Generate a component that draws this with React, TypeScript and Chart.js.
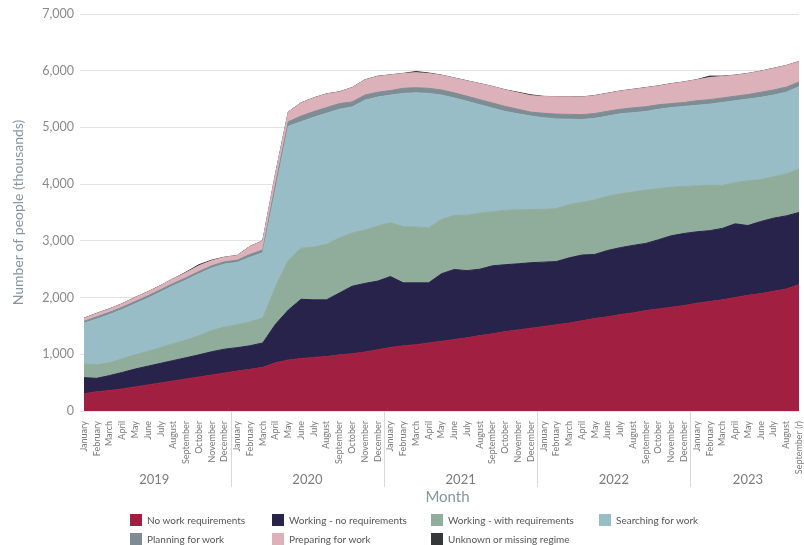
import React, { useEffect, useRef } from "react";
import { Chart, registerables } from "chart.js";

Chart.register(...registerables);

// ---------- DATA ----------
const monthNames = [
  "January", "February", "March", "April", "May", "June",
  "July", "August", "September", "October", "November", "December",
];
const years = ["2019", "2020", "2021", "2022", "2023"];
const monthsPerYear = [12, 12, 12, 12, 9];
const lastMonthLabel = "September (r)";

// thousands of people
const noWorkRequirements = [
  305, 340, 360, 390, 425, 460, 495, 530, 565, 600, 635, 670,
  705, 735, 770, 850, 900, 925, 945, 960, 990, 1010, 1040, 1080,
  1120, 1150, 1170, 1200, 1230, 1260, 1290, 1330, 1360, 1400, 1430, 1460,
  1490, 1520, 1550, 1590, 1630, 1660, 1700, 1730, 1770, 1800, 1830, 1860,
  1900, 1930, 1960, 2000, 2040, 2070, 2110, 2150, 2230,
];
const workingNoRequirements = [
  283, 236, 265, 290, 315, 330, 345, 360, 375, 390, 410, 420,
  412, 415, 430, 680, 880, 1045, 1015, 1000, 1090, 1190, 1210, 1210,
  1250, 1110, 1090, 1060, 1190, 1235, 1185, 1170, 1200, 1180, 1165, 1155,
  1135, 1115, 1150, 1160, 1130, 1170, 1180, 1190, 1185, 1220, 1260, 1270,
  1260, 1250, 1260, 1300, 1230, 1270, 1290, 1290, 1270,
];
const workingWithRequirements = [
  242, 239, 225, 240, 250, 260, 280, 300, 310, 340, 375, 390,
  403, 420, 440, 660, 880, 900, 930, 980, 970, 940, 940, 970,
  950, 990, 985, 970, 960, 955, 975, 990, 955, 960, 953, 937,
  931, 935, 940, 930, 960, 960, 950, 940, 940, 900, 855, 830,
  810, 798, 758, 730, 790, 740, 730, 740, 765,
];
const searchingForWork = [
  720, 805, 850, 870, 900, 940, 980, 1020, 1060, 1090, 1100, 1110,
  1100, 1140, 1150, 1710, 2360, 2230, 2290, 2310, 2270, 2220, 2290, 2275,
  2250, 2350, 2365, 2370, 2190, 2070, 2010, 1910, 1825, 1740, 1692, 1648,
  1614, 1580, 1505, 1460, 1440, 1410, 1410, 1400, 1385, 1400, 1405, 1410,
  1420, 1432, 1462, 1440, 1440, 1450, 1440, 1440, 1455,
];
const planningForWork = [
  30, 40, 40, 40, 40, 40, 40, 40, 40, 40, 40, 40,
  40, 50, 50, 100, 80, 100, 100, 100, 100, 90, 90, 85,
  80, 90, 90, 90, 90, 90, 90, 90, 90, 90, 80, 70,
  80, 85, 85, 85, 85, 85, 80, 85, 85, 80, 70, 70,
  80, 80, 80, 80, 80, 90, 90, 90, 80,
];
const preparingForWork = [
  55, 60, 60, 60, 70, 70, 70, 80, 90, 100, 90, 80,
  80, 140, 160, 180, 170, 230, 240, 240, 205, 250, 267, 280,
  275, 260, 266, 260, 260, 260, 270, 280, 290, 290, 290, 290,
  295, 305, 310, 310, 315, 315, 320, 325, 335, 330, 350, 360,
  370, 390, 380, 370, 370, 370, 380, 380, 360,
];
const unknownRegime = [
  3, 3, 3, 3, 3, 3, 3, 3, 10, 20, 10, 3,
  3, 3, 3, 3, 3, 3, 3, 3, 3, 3, 3, 3,
  3, 3, 20, 10, 3, 3, 3, 3, 3, 3, 10, 15,
  3, 3, 3, 3, 3, 3, 3, 3, 3, 3, 3, 3,
  3, 25, 5, 3, 3, 3, 3, 3, 3,
];

const seriesNames = [
  "No work requirements",
  "Working - no requirements",
  "Working - with requirements",
  "Searching for work",
  "Planning for work",
  "Preparing for work",
  "Unknown or missing regime",
];
const seriesValues = [
  noWorkRequirements,
  workingNoRequirements,
  workingWithRequirements,
  searchingForWork,
  planningForWork,
  preparingForWork,
  unknownRegime,
];
const seriesColors = [
  "#A11F40",
  "#28234A",
  "#90AD9B",
  "#98BDC7",
  "#7E8D94",
  "#DDB1B9",
  "#353739",
];

const yMin = 0;
const yMax = 7000;
const yStep = 1000;

const categories: string[] = [];
years.forEach((yr, yi) => {
  for (let m = 0; m < monthsPerYear[yi]; m++) categories.push(monthNames[m]);
});
categories[categories.length - 1] = lastMonthLabel;

const FONT = "Lato, 'Open Sans', sans-serif";

const yearPlugin = {
  id: "yearPlugin",
  afterDraw(chart: any) {
    const ctx = chart.ctx;
    const xs = chart.scales.x;
    const area = chart.chartArea;
    ctx.save();
    let start = 0;
    years.forEach((yr, yi) => {
      const end = start + monthsPerYear[yi] - 1;
      const x0 = xs.getPixelForValue(start);
      const x1 = xs.getPixelForValue(end);
      ctx.fillStyle = "#7b7b7b";
      ctx.font = `13px ${FONT}`;
      ctx.textAlign = "center";
      ctx.textBaseline = "middle";
      ctx.fillText(yr, (x0 + x1) / 2, 480);
      if (yi < years.length - 1) {
        const sx = Math.round((x1 + xs.getPixelForValue(end + 1)) / 2) + 0.5;
        ctx.strokeStyle = "#d9d9d9";
        ctx.lineWidth = 1;
        ctx.beginPath();
        ctx.moveTo(sx, area.bottom);
        ctx.lineTo(sx, 487);
        ctx.stroke();
      }
      start = end + 1;
    });
    ctx.fillStyle = "#8795a0";
    ctx.font = `15px ${FONT}`;
    ctx.textAlign = "center";
    ctx.textBaseline = "middle";
    ctx.fillText("Month", (area.left + area.right) / 2 + 6, 497);
    ctx.restore();
  },
};

export default function App() {
  const canvasRef = useRef<HTMLCanvasElement | null>(null);

  useEffect(() => {
    if (!canvasRef.current) return;
    const chart = new Chart(canvasRef.current, {
      type: "line",
      data: {
        labels: categories,
        datasets: seriesNames.map((name, i) => ({
          label: name,
          data: seriesValues[i],
          backgroundColor: seriesColors[i],
          borderColor: seriesColors[i],
          borderWidth: 1,
          pointRadius: 0,
          pointHoverRadius: 0,
          tension: 0,
          fill: i === 0 ? "origin" : "-1",
        })),
      },
      options: {
        responsive: false,
        animation: false,
        devicePixelRatio: 1,
        layout: { padding: { left: 10, right: 5, top: 14, bottom: 0 } },
        plugins: {
          legend: { display: false },
          tooltip: { enabled: false },
        },
        scales: {
          x: {
            grid: { display: false },
            border: { display: false },
            ticks: {
              autoSkip: false,
              minRotation: 90,
              maxRotation: 90,
              padding: 2,
              color: "#7a7a7a",
              font: { family: FONT, size: 9 },
            },
            afterFit(scale: any) {
              scale.height = 545 - 411;
              scale.paddingRight = 0;
              scale.paddingLeft = 0;
            },
          },
          y: {
            stacked: true,
            min: yMin,
            max: yMax,
            border: { display: false },
            grid: { color: "#e2e2e2", lineWidth: 1, tickLength: 4 },
            ticks: {
              stepSize: yStep,
              padding: 6,
              color: "#8a8a8a",
              font: { family: FONT, size: 12.5 },
              callback: (v: any) => Number(v).toLocaleString("en-US"),
            },
            title: {
              display: true,
              text: "Number of people (thousands)",
              color: "#8795a0",
              font: { family: FONT, size: 14 },
              padding: { top: 0, bottom: 0 },
            },
            afterFit(scale: any) {
              scale.width = 74;
            },
          },
        },
      },
      plugins: [yearPlugin],
    });
    return () => chart.destroy();
  }, []);

  const legendCols = [130, 272, 431, 599];
  const legendRows = [513, 532];

  return (
    <div style={{ position: "fixed", left: 0, top: 0, width: 804, height: 545, background: "#fff" }}>
      <canvas ref={canvasRef} width={804} height={545} style={{ display: "block" }} />
      {seriesNames.map((name, i) => (
        <div
          key={name}
          style={{
            position: "absolute",
            left: legendCols[i % 4],
            top: legendRows[Math.floor(i / 4)],
            display: "flex",
            alignItems: "center",
            fontFamily: FONT,
            fontSize: 10,
            color: "#555",
            whiteSpace: "nowrap",
            height: 13,
          }}
        >
          <span
            style={{
              display: "inline-block",
              width: 12,
              height: 12,
              background: seriesColors[i],
              marginRight: 5,
            }}
          />
          <span>{name}</span>
        </div>
      ))}
    </div>
  );
}
